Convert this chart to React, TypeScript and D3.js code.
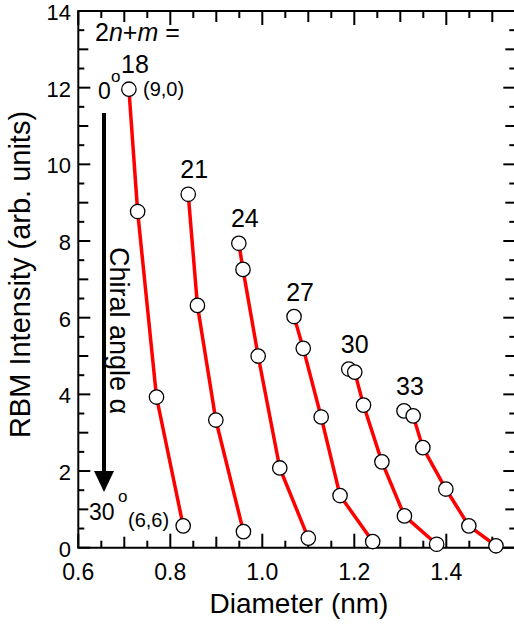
import React from "react";
import * as d3 from "d3";

// 2n+m families
const familyLabels = ["18", "21", "24", "27", "30", "33"];
const diam18 = [0.71, 0.729, 0.77, 0.828];
const int18 = [11.96, 8.77, 3.93, 0.57];
const diam21 = [0.839, 0.859, 0.899, 0.959];
const int21 = [9.22, 6.32, 3.33, 0.42];
const diam24 = [0.949, 0.958, 0.991, 1.038, 1.1];
const int24 = [7.94, 7.26, 5.0, 2.08, 0.25];
const diam27 = [1.069, 1.089, 1.128, 1.169, 1.24];
const int27 = [6.03, 5.2, 3.41, 1.36, 0.16];
const diam30 = [1.188, 1.201, 1.22, 1.26, 1.309, 1.379];
const int30 = [4.66, 4.58, 3.72, 2.24, 0.83, 0.09];
const diam33 = [1.308, 1.328, 1.349, 1.399, 1.449, 1.508];
const int33 = [3.57, 3.44, 2.61, 1.53, 0.57, 0.05];

const xTickLabels = [0.6, 0.8, 1.0, 1.2, 1.4];
const yTickLabels = [0, 2, 4, 6, 8, 10, 12, 14];

const W = 514;
const H = 631;
const FONT = "'Liberation Sans', Arial, Helvetica, sans-serif";

export default function App() {
  const x = d3.scaleLinear().domain([0.6, 1.55]).range([78.3, 515.3]);
  const y = d3.scaleLinear().domain([0, 14]).range([547.7, 11]);
  const [x0, x1] = x.range();
  const [y0, y1] = y.range();

  const series = [
    [diam18, int18],
    [diam21, int21],
    [diam24, int24],
    [diam27, int27],
    [diam30, int30],
    [diam33, int33],
  ].map(([d, v], i) => ({
    label: familyLabels[i],
    pts: d.map((dd, j) => [dd, v[j]] as [number, number]),
  }));

  const line = d3
    .line<[number, number]>()
    .x((p) => x(p[0]))
    .y((p) => y(p[1]));

  // x ticks every 0.05
  const xt = d3.range(0, 20).map((i) => +(0.6 + i * 0.05).toFixed(2));
  const xLen = (v: number) => {
    const k = Math.round(v * 100);
    if (k % 20 === 0) return 14;
    if (k % 10 === 0) return 11;
    return 7;
  };
  const yt = d3.range(0, 29).map((i) => i * 0.5);
  const yLen = (v: number) => {
    const k = Math.round(v * 2);
    if (k % 4 === 0) return 12;
    if (k % 2 === 0) return 10;
    return 6;
  };

  return (
    <svg
      width={W}
      height={H}
      style={{ position: "absolute", left: 0, top: 0, display: "block", background: "#fff" }}
      fontFamily={FONT}
    >
      {/* frame */}
      <g stroke="#000" strokeWidth={2} fill="none">
        <line x1={x0 - 1} x2={x1} y1={y0} y2={y0} />
        <line x1={x0 - 1} x2={x1} y1={y1} y2={y1} />
        <line x1={x0} x2={x0} y1={y0} y2={y1} />
        <line x1={x1} x2={x1} y1={y0} y2={y1} />
        {xt.map((v) => (
          <g key={"xt" + v}>
            <line x1={x(v)} x2={x(v)} y1={y0} y2={y0 - xLen(v)} />
            <line x1={x(v)} x2={x(v)} y1={y1} y2={y1 + xLen(v)} />
          </g>
        ))}
        {yt.map((v) => (
          <g key={"yt" + v}>
            <line x1={x0} x2={x0 + yLen(v)} y1={y(v)} y2={y(v)} />
            <line x1={x1} x2={x1 - yLen(v)} y1={y(v)} y2={y(v)} />
          </g>
        ))}
      </g>
      {/* tick labels */}
      <g fill="#000">
        {xTickLabels.map((v) => (
          <text key={"xl" + v} x={x(v)} y={580} textAnchor="middle" fontSize={23}>
            {d3.format(".1f")(v)}
          </text>
        ))}
        {yTickLabels.map((v) => (
          <text key={"yl" + v} x={71} y={y(v) + 9} textAnchor="end" fontSize={22}>
            {v}
          </text>
        ))}
      </g>
      {/* axis titles */}
      <text x={299} y={613} fontSize={28} textAnchor="middle">
        Diameter (nm)
      </text>
      <text
        transform={`translate(30,${274.5}) rotate(-90)`}
        fontSize={29}
        textAnchor="middle"
      >
        RBM Intensity (arb. units)
      </text>

      {/* series */}
      {series.map((s) => (
        <path
          key={"l" + s.label}
          d={line(s.pts) || ""}
          fill="none"
          stroke="#ff0000"
          strokeWidth={3.5}
        />
      ))}
      {series.map((s) =>
        s.pts.map((p, j) => (
          <circle
            key={"c" + s.label + j}
            cx={x(p[0])}
            cy={y(p[1])}
            r={7.2}
            fill="#fff"
            stroke="#000"
            strokeWidth={1.3}
          />
        ))
      )}
      {series.map((s) => (
        <text
          key={"t" + s.label}
          x={x(s.pts[0][0]) + 6}
          y={y(s.pts[0][1]) - 16}
          fontSize={25}
          textAnchor="middle"
        >
          {s.label}
        </text>
      ))}

      {/* annotations */}
      <text x={95} y={41} fontSize={25}>
        2<tspan fontStyle="italic">n</tspan>+<tspan fontStyle="italic">m</tspan> =
      </text>
      <text x={98} y={99} fontSize={23}>0</text>
      <text x={111} y={82} fontSize={17}>o</text>
      <text x={143} y={96} fontSize={20}>(9,0)</text>
      <text x={89} y={520} fontSize={23}>30</text>
      <text x={118} y={502} fontSize={17}>o</text>
      <text x={128} y={527} fontSize={20}>(6,6)</text>

      {/* chiral angle arrow */}
      <line x1={104} x2={104} y1={113} y2={476} stroke="#000" strokeWidth={4} />
      <path d="M94,471 L114,471 L104,492 Z" fill="#000" />
      <text transform="translate(110,247) rotate(90)" fontSize={27}>
        Chiral angle α
      </text>
    </svg>
  );
}
